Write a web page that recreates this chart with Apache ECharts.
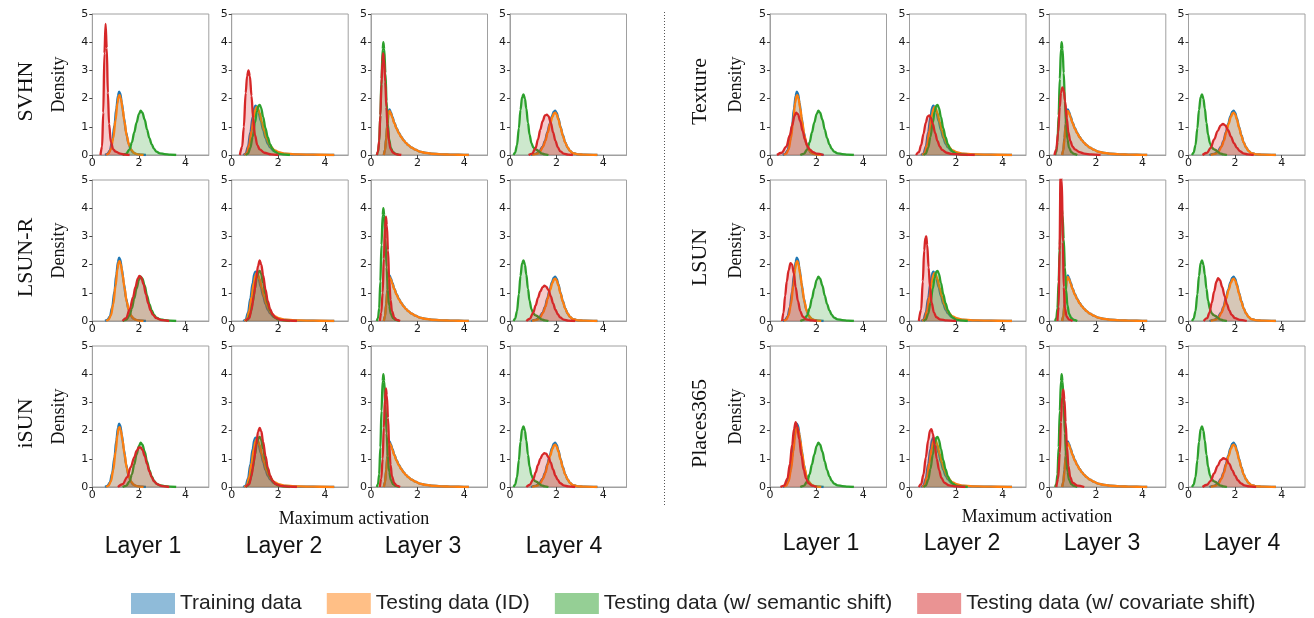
<!DOCTYPE html>
<html>
<head>
<meta charset="utf-8">
<script src="https://cdn.jsdelivr.net/npm/echarts@6/dist/echarts.min.js"></script>
<style>html,body{margin:0;padding:0;background:#fff;}#c{width:1314px;height:618px;}</style>
</head>
<body>
<div id="c"></div>
<script>
// ---------- labels ----------
const layerLabels = ['Layer 1', 'Layer 2', 'Layer 3', 'Layer 4'];
const leftDatasets = ['SVHN', 'LSUN-R', 'iSUN'];
const rightDatasets = ['Texture', 'LSUN', 'Places365'];
const legendNames = ['Training data', 'Testing data (ID)', 'Testing data (w/ semantic shift)', 'Testing data (w/ covariate shift)'];
const yAxisName = 'Density';
const xAxisName = 'Maximum activation';

// ---------- shared curves per layer: [activation, density] ----------
const trainL1 = [[0.55,0],[0.65,0.04],[0.75,0.15],[0.85,0.48],[0.95,1.05],[1.03,1.65],[1.1,2.1],[1.15,2.25],[1.2,2.18],[1.27,1.85],[1.35,1.35],[1.45,0.8],[1.55,0.42],[1.65,0.2],[1.75,0.09],[1.9,0.03],[2.1,0.01],[2.3,0]];
const testL1 = [[0.6,0],[0.7,0.05],[0.8,0.2],[0.9,0.6],[1.0,1.25],[1.08,1.85],[1.13,2.08],[1.17,2.12],[1.22,2.02],[1.3,1.65],[1.38,1.18],[1.48,0.68],[1.58,0.35],[1.68,0.17],[1.8,0.07],[1.95,0.025],[2.2,0]];
const semL1 = [[1.3,0],[1.45,0.04],[1.6,0.2],[1.7,0.45],[1.8,0.8],[1.9,1.15],[2.0,1.45],[2.08,1.57],[2.15,1.5],[2.25,1.25],[2.35,0.9],[2.45,0.6],[2.55,0.38],[2.65,0.22],[2.75,0.12],[2.9,0.06],[3.1,0.03],[3.35,0.015],[3.6,0]];

const trainL2 = [[0.5,0],[0.6,0.05],[0.7,0.3],[0.8,0.8],[0.9,1.35],[0.97,1.68],[1.02,1.75],[1.08,1.7],[1.15,1.52],[1.25,1.2],[1.35,0.88],[1.45,0.6],[1.55,0.4],[1.65,0.27],[1.8,0.15],[2.0,0.08],[2.3,0.04],[2.7,0.02],[3.2,0.012],[3.8,0.006],[4.4,0]];
const testL2 = [[0.55,0],[0.65,0.06],[0.75,0.35],[0.85,0.85],[0.95,1.35],[1.02,1.62],[1.07,1.7],[1.13,1.64],[1.2,1.48],[1.3,1.16],[1.4,0.86],[1.5,0.6],[1.6,0.41],[1.7,0.28],[1.85,0.16],[2.05,0.09],[2.3,0.05],[2.7,0.025],[3.2,0.014],[3.8,0.008],[4.4,0]];
const semL2 = [[0.6,0],[0.7,0.05],[0.8,0.25],[0.9,0.65],[1.0,1.15],[1.08,1.55],[1.15,1.75],[1.2,1.78],[1.26,1.68],[1.35,1.35],[1.45,0.95],[1.55,0.62],[1.65,0.38],[1.75,0.22],[1.85,0.12],[2.0,0.05],[2.2,0.02],[2.5,0]];

const trainL3 = [[0.55,0],[0.6,0.18],[0.65,0.6],[0.7,1.1],[0.75,1.48],[0.79,1.62],[0.85,1.52],[0.92,1.35],[1.0,1.15],[1.1,0.95],[1.2,0.78],[1.3,0.64],[1.4,0.53],[1.5,0.43],[1.6,0.35],[1.75,0.26],[1.9,0.19],[2.1,0.12],[2.3,0.08],[2.6,0.045],[3.0,0.025],[3.5,0.012],[4.0,0.006],[4.2,0]];
const testL3 = [[0.55,0],[0.6,0.15],[0.65,0.55],[0.7,1.05],[0.75,1.42],[0.79,1.56],[0.85,1.48],[0.92,1.32],[1.0,1.13],[1.1,0.93],[1.2,0.77],[1.3,0.63],[1.4,0.52],[1.5,0.43],[1.6,0.35],[1.75,0.26],[1.9,0.19],[2.1,0.12],[2.3,0.08],[2.6,0.045],[3.0,0.025],[3.5,0.012],[4.0,0.006],[4.2,0]];
const semL3 = [[0.25,0],[0.3,0.1],[0.35,0.45],[0.4,1.4],[0.45,2.7],[0.5,3.75],[0.53,4.0],[0.57,3.75],[0.62,2.9],[0.67,1.9],[0.72,1.1],[0.78,0.55],[0.85,0.25],[0.95,0.1],[1.05,0.04],[1.2,0]];

const trainL4 = [[0.9,0],[1.1,0.04],[1.25,0.12],[1.4,0.3],[1.5,0.5],[1.6,0.8],[1.7,1.1],[1.8,1.38],[1.88,1.54],[1.94,1.57],[2.0,1.5],[2.08,1.3],[2.17,1.0],[2.27,0.7],[2.37,0.45],[2.47,0.27],[2.57,0.15],[2.7,0.07],[2.9,0.025],[3.2,0.01],[3.75,0]];
const testL4 = [[0.95,0],[1.15,0.04],[1.3,0.13],[1.42,0.3],[1.52,0.5],[1.62,0.8],[1.72,1.1],[1.82,1.35],[1.89,1.48],[1.94,1.5],[2.0,1.44],[2.08,1.25],[2.17,0.97],[2.27,0.68],[2.37,0.44],[2.47,0.27],[2.57,0.15],[2.7,0.07],[2.9,0.025],[3.2,0.01],[3.75,0]];
const semL4 = [[0.15,0],[0.22,0.08],[0.3,0.35],[0.38,0.95],[0.45,1.6],[0.52,2.05],[0.58,2.15],[0.64,2.0],[0.7,1.65],[0.77,1.15],[0.84,0.72],[0.92,0.42],[1.0,0.27],[1.08,0.21],[1.16,0.18],[1.25,0.12],[1.35,0.06],[1.5,0.02],[1.65,0]];

// ---------- covariate-shift curves per dataset / layer ----------
const covSVHN_L1 = [[0.35,0],[0.42,0.3],[0.47,1.5],[0.52,3.6],[0.57,4.65],[0.62,3.8],[0.67,2.2],[0.72,1.1],[0.8,0.45],[0.9,0.2],[1.0,0.12],[1.2,0.05],[1.4,0.01],[1.6,0]];
const covSVHN_L2 = [[0.35,0],[0.45,0.3],[0.52,1.0],[0.6,2.2],[0.66,2.8],[0.72,3.0],[0.78,2.8],[0.85,2.1],[0.92,1.3],[1.0,0.7],[1.1,0.35],[1.2,0.2],[1.4,0.08],[1.7,0.02],[2.0,0]];
const covSVHN_L3 = [[0.25,0],[0.3,0.12],[0.35,0.5],[0.4,1.4],[0.45,2.5],[0.49,3.3],[0.52,3.6],[0.56,3.4],[0.61,2.6],[0.66,1.7],[0.71,1.0],[0.77,0.5],[0.84,0.22],[0.95,0.08],[1.1,0.02],[1.3,0]];
const covSVHN_L4 = [[0.8,0],[0.95,0.05],[1.1,0.25],[1.2,0.55],[1.3,0.9],[1.4,1.2],[1.5,1.4],[1.58,1.43],[1.65,1.38],[1.75,1.15],[1.85,0.8],[1.95,0.5],[2.05,0.28],[2.15,0.14],[2.3,0.05],[2.5,0.01],[2.7,0]];

const covLSUNR_L1 = [[1.3,0],[1.45,0.1],[1.6,0.4],[1.75,0.85],[1.85,1.2],[1.95,1.5],[2.02,1.6],[2.1,1.55],[2.2,1.3],[2.3,0.95],[2.4,0.62],[2.5,0.38],[2.6,0.22],[2.75,0.1],[3.0,0.03],[3.3,0]];
const covLSUNR_L2 = [[0.6,0],[0.75,0.1],[0.85,0.4],[0.95,0.9],[1.05,1.5],[1.13,1.95],[1.2,2.15],[1.27,2.0],[1.35,1.62],[1.45,1.12],[1.55,0.7],[1.65,0.42],[1.75,0.24],[1.9,0.11],[2.1,0.04],[2.5,0.01],[2.8,0]];
const covLSUNR_L3 = [[0.38,0],[0.44,0.3],[0.5,1.0],[0.55,2.2],[0.6,3.3],[0.64,3.7],[0.68,3.4],[0.73,2.5],[0.78,1.5],[0.84,0.75],[0.9,0.35],[1.0,0.12],[1.1,0.04],[1.25,0]];
const covLSUNR_L4 = [[0.7,0],[0.85,0.08],[1.0,0.3],[1.1,0.55],[1.2,0.82],[1.3,1.05],[1.4,1.2],[1.48,1.25],[1.55,1.22],[1.65,1.1],[1.75,0.88],[1.85,0.62],[1.95,0.4],[2.05,0.24],[2.15,0.13],[2.3,0.05],[2.5,0.015],[2.8,0]];

const covISUN_L1 = [[1.1,0],[1.3,0.1],[1.5,0.35],[1.65,0.7],[1.8,1.05],[1.9,1.28],[2.0,1.4],[2.08,1.4],[2.15,1.32],[2.25,1.1],[2.35,0.82],[2.45,0.55],[2.55,0.35],[2.65,0.2],[2.8,0.09],[3.0,0.03],[3.3,0]];
const covISUN_L2 = [[0.6,0],[0.75,0.1],[0.85,0.4],[0.95,0.9],[1.05,1.5],[1.13,1.95],[1.2,2.1],[1.27,1.98],[1.35,1.6],[1.45,1.1],[1.55,0.68],[1.65,0.4],[1.75,0.22],[1.9,0.1],[2.1,0.04],[2.5,0.01],[2.8,0]];
const covISUN_L3 = [[0.38,0],[0.44,0.3],[0.5,1.0],[0.55,2.1],[0.6,3.1],[0.64,3.5],[0.68,3.25],[0.73,2.45],[0.78,1.5],[0.84,0.78],[0.9,0.38],[1.0,0.14],[1.1,0.05],[1.25,0]];
const covISUN_L4 = [[0.7,0],[0.85,0.08],[1.0,0.28],[1.1,0.52],[1.2,0.78],[1.3,1.0],[1.4,1.15],[1.48,1.2],[1.55,1.18],[1.65,1.06],[1.75,0.86],[1.85,0.62],[1.95,0.4],[2.05,0.25],[2.15,0.14],[2.3,0.06],[2.5,0.02],[2.8,0]];

const covTexture_L1 = [[0.3,0],[0.5,0.08],[0.7,0.3],[0.85,0.7],[0.95,1.05],[1.05,1.38],[1.12,1.5],[1.2,1.45],[1.3,1.2],[1.4,0.85],[1.5,0.55],[1.6,0.33],[1.7,0.2],[1.85,0.1],[2.0,0.05],[2.3,0]];
const covTexture_L2 = [[0.28,0],[0.4,0.1],[0.5,0.35],[0.6,0.75],[0.7,1.15],[0.78,1.37],[0.85,1.4],[0.92,1.32],[1.0,1.1],[1.1,0.78],[1.2,0.5],[1.3,0.3],[1.4,0.18],[1.6,0.08],[1.8,0.04],[2.2,0.015],[2.8,0]];
const covTexture_L3 = [[0.22,0],[0.3,0.2],[0.38,0.8],[0.45,1.7],[0.5,2.2],[0.56,2.4],[0.62,2.3],[0.68,1.9],[0.75,1.3],[0.82,0.8],[0.9,0.5],[1.0,0.3],[1.1,0.2],[1.3,0.1],[1.5,0.05],[1.8,0.02],[2.2,0]];
const covTexture_L4 = [[0.6,0],[0.8,0.08],[0.95,0.25],[1.1,0.55],[1.25,0.85],[1.38,1.05],[1.48,1.1],[1.58,1.05],[1.7,0.88],[1.82,0.65],[1.95,0.42],[2.08,0.25],[2.2,0.14],[2.35,0.06],[2.55,0.02],[2.8,0]];

const covLSUN_L1 = [[0.52,0],[0.58,0.3],[0.65,0.9],[0.72,1.4],[0.8,1.8],[0.88,2.05],[0.95,2.0],[1.02,1.7],[1.1,1.2],[1.2,0.7],[1.3,0.35],[1.4,0.16],[1.55,0.06],[1.8,0.02],[2.0,0]];
const covLSUN_L2 = [[0.4,0],[0.5,0.4],[0.57,1.4],[0.63,2.5],[0.68,2.95],[0.72,3.0],[0.76,2.7],[0.82,1.9],[0.88,1.2],[0.95,0.65],[1.05,0.3],[1.15,0.14],[1.3,0.06],[1.6,0.02],[2.0,0]];
const covLSUN_L3 = [[0.35,0],[0.4,0.5],[0.44,2.5],[0.48,5.2],[0.51,6.0],[0.54,5.0],[0.58,2.8],[0.62,1.2],[0.67,0.45],[0.75,0.15],[0.85,0.05],[1.0,0]];
const covLSUN_L4 = [[0.65,0],[0.8,0.1],[0.9,0.3],[1.0,0.65],[1.1,1.05],[1.2,1.4],[1.27,1.52],[1.35,1.45],[1.45,1.2],[1.55,0.88],[1.65,0.6],[1.75,0.38],[1.85,0.22],[2.0,0.1],[2.2,0.04],[2.5,0]];

const covPlaces_L1 = [[0.45,0],[0.6,0.05],[0.75,0.3],[0.85,0.8],[0.95,1.5],[1.03,2.05],[1.1,2.3],[1.17,2.15],[1.25,1.7],[1.35,1.1],[1.45,0.6],[1.55,0.3],[1.65,0.14],[1.8,0.05],[2.0,0]];
const covPlaces_L2 = [[0.4,0],[0.5,0.1],[0.6,0.45],[0.7,1.05],[0.8,1.65],[0.88,2.0],[0.94,2.05],[1.0,1.9],[1.08,1.5],[1.17,1.0],[1.27,0.6],[1.37,0.32],[1.5,0.15],[1.7,0.06],[2.0,0.02],[2.4,0]];
const covPlaces_L3 = [[0.3,0],[0.38,0.3],[0.45,1.2],[0.5,2.3],[0.55,3.2],[0.6,3.45],[0.65,3.1],[0.7,2.3],[0.76,1.4],[0.82,0.75],[0.9,0.35],[1.0,0.15],[1.2,0.05],[1.5,0]];
const covPlaces_L4 = [[0.6,0],[0.8,0.08],[0.95,0.22],[1.1,0.48],[1.25,0.75],[1.38,0.95],[1.5,1.02],[1.62,0.98],[1.75,0.82],[1.88,0.6],[2.0,0.4],[2.12,0.24],[2.25,0.13],[2.4,0.06],[2.6,0.02],[2.9,0]];

// ---------- assemble ----------
const shared = [
  [trainL1, testL1, semL1],
  [trainL2, testL2, semL2],
  [trainL3, testL3, semL3],
  [trainL4, testL4, semL4]
];
const covariate = [
  [[covSVHN_L1, covSVHN_L2, covSVHN_L3, covSVHN_L4],
   [covLSUNR_L1, covLSUNR_L2, covLSUNR_L3, covLSUNR_L4],
   [covISUN_L1, covISUN_L2, covISUN_L3, covISUN_L4]],
  [[covTexture_L1, covTexture_L2, covTexture_L3, covTexture_L4],
   [covLSUN_L1, covLSUN_L2, covLSUN_L3, covLSUN_L4],
   [covPlaces_L1, covPlaces_L2, covPlaces_L3, covPlaces_L4]]
];

const colors = ['#1f77b4', '#ff7f0e', '#2ca02c', '#d62728'];
const legendColors = ['rgba(31,119,180,0.5)', 'rgba(255,127,14,0.5)', 'rgba(44,160,44,0.5)', 'rgba(214,39,40,0.5)'];

const colLeft = [[92.3, 231.7, 371, 510], [770, 909.5, 1049.3, 1188.5]];
const rowTop = [14, 180, 346];
const PW = 116.5, PH = 141;

const grids = [], xAxes = [], yAxes = [], series = [];
const tickFont = { fontFamily: 'DejaVu Sans', fontSize: 11, color: '#1a1a1a' };

let idx = 0;
for (let g = 0; g < 2; g++) {
  for (let r = 0; r < 3; r++) {
    for (let c = 0; c < 4; c++) {
      grids.push({
        left: colLeft[g][c], top: rowTop[r], width: PW, height: PH,
        show: true, borderColor: '#a0a0a0', borderWidth: 1, backgroundColor: 'transparent'
      });
      xAxes.push({
        type: 'value', gridIndex: idx, min: 0, max: 5, interval: 2,
        axisLine: { show: true, onZero: false, lineStyle: { color: '#a0a0a0', width: 1 } },
        axisTick: { show: true, length: 3, lineStyle: { color: '#444', width: 1 } },
        axisLabel: Object.assign({ margin: 3, showMaxLabel: false, formatter: v => (v === 5 ? '' : String(v)) }, tickFont),
        splitLine: { show: false }
      });
      yAxes.push({
        type: 'value', gridIndex: idx, min: 0, max: 5, interval: 1,
        axisLine: { show: true, onZero: false, lineStyle: { color: '#a0a0a0', width: 1 } },
        axisTick: { show: true, length: 3, lineStyle: { color: '#444', width: 1 } },
        axisLabel: Object.assign({ margin: 4 }, tickFont),
        splitLine: { show: false }
      });
      const curves = [shared[c][0], shared[c][1], shared[c][2], covariate[g][r][c]];
      for (let s = 0; s < 4; s++) {
        series.push({
          type: 'line', name: legendNames[s], xAxisIndex: idx, yAxisIndex: idx,
          data: curves[s], showSymbol: false, symbol: 'none', smooth: 0.35, smoothMonotone: 'x',
          clip: true, silent: true, animation: false,
          lineStyle: { color: colors[s], width: 2.3 },
          itemStyle: { color: colors[s] },
          areaStyle: { color: colors[s], opacity: 0.24 },
          z: 2 + s
        });
      }
      idx++;
    }
  }
}

// ---------- text annotations ----------
const graphics = [];
graphics.push({
  type: 'line', shape: { x1: 664.5, y1: 12, x2: 664.5, y2: 506 },
  style: { stroke: '#555', lineWidth: 1, lineDash: [1, 2] }, silent: true
});
const rowNames = [leftDatasets, rightDatasets];
const rowLabelX = [26, 700];
const densityX = [59, 736];
for (let g = 0; g < 2; g++) {
  for (let r = 0; r < 3; r++) {
    const cy = rowTop[r] + PH / 2;
    graphics.push({
      type: 'text', x: rowLabelX[g], y: cy + 7, rotation: Math.PI / 2,
      style: { text: rowNames[g][r], font: '22px "Liberation Serif"', fill: '#111', textAlign: 'center', textVerticalAlign: 'middle' }
    });
    graphics.push({
      type: 'text', x: densityX[g], y: cy, rotation: Math.PI / 2,
      style: { text: yAxisName, font: '18px "Liberation Serif"', fill: '#111', textAlign: 'center', textVerticalAlign: 'middle' }
    });
  }
}
const layerX = [[143, 284, 423, 564], [821, 962, 1102, 1242]];
const layerY = [547, 544];
for (let g = 0; g < 2; g++) {
  for (let c = 0; c < 4; c++) {
    graphics.push({
      type: 'text', x: layerX[g][c], y: layerY[g],
      style: { text: layerLabels[c], font: '23px "Liberation Sans"', fill: '#111', textAlign: 'center', textVerticalAlign: 'middle' }
    });
  }
}
graphics.push({ type: 'text', x: 354, y: 519, style: { text: xAxisName, font: '18px "Liberation Serif"', fill: '#111', textAlign: 'center', textVerticalAlign: 'middle' } });
graphics.push({ type: 'text', x: 1037, y: 517, style: { text: xAxisName, font: '18px "Liberation Serif"', fill: '#111', textAlign: 'center', textVerticalAlign: 'middle' } });

const chart = echarts.init(document.getElementById('c'), null, { renderer: 'canvas' });
chart.setOption({
  animation: false,
  backgroundColor: '#fff',
  grid: grids,
  xAxis: xAxes,
  yAxis: yAxes,
  series: series,
  legend: {
    left: 131, top: 593, padding: 0, itemGap: 25, itemWidth: 44, itemHeight: 21,
    icon: 'rect', selectedMode: false,
    itemStyle: { borderWidth: 0 },
    textStyle: { fontFamily: 'Liberation Sans', fontSize: 21, color: '#222', padding: [0, 0, 0, 0] },
    data: legendNames.map((n, i) => ({ name: n, icon: 'rect', itemStyle: { color: legendColors[i], borderWidth: 0 } }))
  },
  graphic: graphics
});
</script>
</body>
</html>
